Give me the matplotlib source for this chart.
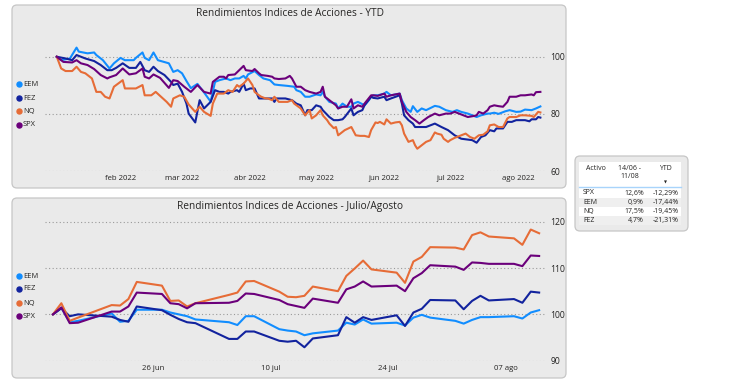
import matplotlib.pyplot as plt
import numpy as np
import pandas as pd
from matplotlib.patches import FancyBboxPatch, Rectangle

W, H = 730, 382
FONT = ["Open Sans", "DejaVu Sans"]
plt.rcParams["font.family"] = FONT

SERIES = ["EEM", "FEZ", "NQ", "SPX"]
COLORS = {"EEM": "#118DFF", "FEZ": "#12239E", "NQ": "#E66C37", "SPX": "#6B007B"}

# ---- YTD panel: day offset from 2022-01-01, value (base 100)
eem_day = [2, 4, 8, 11, 12, 16, 19, 20, 23, 26,
           28, 31, 33, 37, 38, 41, 42, 44, 46, 48,
           53, 55, 57, 59, 61, 63, 66, 69, 72, 74,
           76, 79, 81, 83, 85, 87, 88, 89, 92, 94,
           96, 99, 101, 103, 107, 110, 111, 113, 115, 117,
           120, 122, 123, 124, 126, 129, 130, 132, 134, 136,
           137, 139, 142, 144, 145, 146, 148, 151, 152, 154,
           158, 159, 161, 163, 164, 166, 168, 170, 174, 176,
           179, 182, 184, 186, 189, 191, 193, 195, 198, 199,
           201, 203, 206, 208, 211, 213, 215, 218, 220, 222]
eem_ytd = [100, 98.8, 99.4, 103.2, 101.8, 101.2, 101.5, 100.6, 98.8, 95.9,
           97.7, 99.6, 98.8, 98.8, 99.6, 101.5, 99.6, 98.8, 101.5, 98.8,
           97.7, 94.7, 95.3, 94.2, 91.5, 89.0, 90.5, 87.5, 84.3, 91.2,
           91.8, 92.4, 91.8, 92.4, 92.4, 93.3, 92.4, 93.8, 95.0, 93.6,
           92.4, 91.8, 90.3, 90.1, 89.8, 89.5, 88.3, 87.7, 86.0, 86.0,
           86.8, 86.5, 87.7, 86.0, 84.2, 83.6, 81.9, 83.6, 82.5, 82.5,
           83.6, 84.2, 83.0, 84.8, 86.0, 86.5, 86.5, 87.1, 87.7, 86.5,
           87.1, 84.8, 81.9, 80.7, 82.7, 80.7, 81.9, 81.3, 82.8, 82.5,
           81.3, 80.7, 81.3, 80.7, 80.1, 79.5, 78.9, 79.5, 80.1, 80.1,
           80.4, 80.0, 80.9, 81.3, 80.7, 80.8, 81.5, 81.3, 81.9, 82.6]

fez_day = [2, 6, 9, 11, 15, 19, 22, 25, 27, 29,
           32, 35, 38, 40, 42, 44, 46, 48, 51, 54,
           55, 57, 59, 61, 62, 65, 67, 69, 72, 74,
           76, 78, 80, 81, 84, 85, 87, 88, 90, 92,
           94, 97, 100, 101, 102, 106, 109, 111, 113, 115,
           116, 118, 120, 122, 123, 126, 128, 130, 132, 133,
           136, 137, 139, 141, 142, 145, 146, 148, 151, 152,
           154, 158, 159, 160, 162, 164, 165, 167, 170, 174,
           177, 180, 183, 186, 188, 191, 193, 195, 197, 199,
           201, 202, 205, 207, 209, 211, 213, 215, 217, 218,
           220, 221, 222]
fez_ytd = [100, 99.4, 98.8, 100.6, 99.4, 98.5, 97.1, 95.3, 95.3, 96.1,
           97.7, 96.1, 96.1, 98.2, 95.3, 94.7, 96.5, 95.0, 93.6, 91.2,
           90.1, 90.6, 87.7, 83.6, 80.1, 77.0, 84.8, 81.9, 84.2, 88.3,
           87.7, 87.7, 87.1, 87.7, 88.3, 87.7, 90.6, 88.3, 88.9, 88.9,
           85.4, 85.4, 85.4, 84.2, 85.4, 85.4, 84.8, 83.6, 83.0, 79.5,
           81.3, 81.3, 83.0, 82.5, 81.3, 78.9, 77.8, 77.8, 78.1, 78.9,
           81.9, 79.5, 80.7, 81.3, 83.0, 86.0, 85.6, 85.4, 86.0, 84.8,
           85.4, 86.5, 83.6, 79.5, 77.8, 76.6, 75.4, 75.4, 75.4, 76.6,
           75.4, 74.3, 72.5, 71.3, 71.1, 70.8, 69.9, 71.9, 72.5, 74.3,
           73.9, 74.9, 74.9, 77.2, 77.2, 77.8, 77.8, 77.8, 77.4, 78.1,
           78.1, 78.9, 78.7]

spx_day = [2, 4, 5, 9, 11, 13, 16, 19, 22, 25,
           26, 29, 32, 35, 38, 41, 42, 44, 46, 49,
           53, 55, 57, 60, 63, 66, 69, 72, 73, 76,
           78, 79, 80, 83, 85, 87, 88, 91, 92, 94,
           95, 98, 100, 101, 103, 106, 108, 109, 111, 113,
           115, 117, 120, 122, 123, 124, 126, 129, 130, 132,
           134, 136, 137, 139, 141, 142, 145, 146, 148, 151,
           152, 154, 158, 159, 161, 163, 165, 167, 169, 171,
           174, 176, 179, 181, 183, 185, 187, 189, 192, 193,
           194, 196, 198, 199, 201, 203, 205, 207, 208, 211,
           213, 215, 218, 219, 220, 222]
spx_ytd = [100, 98.8, 98.2, 98.0, 98.8, 97.7, 97.1, 95.7, 93.6, 92.4,
           92.8, 93.6, 95.9, 93.8, 94.2, 95.9, 93.0, 92.4, 93.8, 92.6,
           89.1, 91.8, 91.5, 89.5, 87.7, 90.1, 87.7, 87.1, 91.2, 93.0,
           93.0, 92.4, 93.6, 93.8, 95.3, 96.8, 95.3, 95.0, 95.7, 94.2,
           93.6, 93.3, 93.0, 92.4, 92.2, 92.4, 93.3, 92.4, 89.5, 89.5,
           88.3, 87.7, 87.1, 87.7, 89.5, 86.0, 84.8, 83.0, 81.9, 82.5,
           82.5, 85.1, 81.9, 83.0, 82.5, 83.6, 86.5, 86.5, 86.3, 87.1,
           86.0, 86.5, 87.1, 84.2, 80.7, 78.9, 77.8, 76.6, 77.8, 78.9,
           80.1, 79.5, 80.1, 80.1, 80.7, 80.1, 79.5, 78.9, 79.3, 79.5,
           80.7, 80.1, 81.3, 82.5, 83.0, 82.7, 82.5, 84.2, 86.0, 86.0,
           86.5, 86.5, 86.8, 86.5, 87.6, 87.7]

nq_day = [2, 4, 6, 9, 11, 13, 15, 18, 20, 22,
          24, 26, 28, 32, 33, 36, 38, 41, 42, 45,
          47, 49, 52, 54, 55, 58, 60, 62, 65, 67,
          69, 72, 73, 75, 78, 80, 82, 84, 85, 87,
          89, 91, 92, 94, 95, 97, 98, 100, 101, 103,
          105, 107, 109, 110, 113, 115, 117, 118, 120, 122,
          123, 125, 126, 128, 129, 130, 132, 133, 136, 138,
          140, 142, 144, 145, 147, 148, 149, 151, 152, 154,
          156, 158, 159, 160, 162, 164, 165, 166, 168, 170,
          172, 174, 175, 177, 178, 180, 181, 183, 186, 188,
          190, 192, 194, 196, 198, 199, 201, 203, 205, 207,
          208, 211, 213, 215, 218, 219, 221, 222]
nq_ytd = [100, 95.9, 95.0, 95.0, 96.5, 94.7, 94.2, 92.4, 87.7, 87.7,
          86.0, 85.4, 89.5, 91.8, 88.9, 88.9, 88.9, 90.1, 86.5, 86.5,
          87.7, 86.3, 84.2, 82.5, 85.4, 86.5, 86.0, 83.3, 80.7, 82.5,
          80.7, 79.3, 83.6, 87.1, 87.1, 88.3, 87.7, 90.1, 89.5, 90.6,
          92.4, 90.1, 87.7, 86.5, 86.0, 85.4, 85.4, 84.8, 86.0, 84.2,
          84.2, 84.2, 84.8, 83.6, 81.9, 79.5, 81.3, 78.4, 79.5, 81.3,
          79.5, 77.8, 76.6, 75.0, 75.4, 72.5, 73.7, 74.3, 75.4, 72.5,
          72.3, 72.3, 71.9, 74.3, 77.0, 76.8, 77.2, 76.3, 78.1, 76.6,
          77.0, 77.2, 76.0, 73.1, 70.2, 70.8, 69.0, 67.8, 69.0, 70.2,
          70.8, 73.5, 73.1, 72.7, 71.3, 70.2, 70.8, 71.6, 72.5, 73.1,
          71.9, 71.3, 72.5, 72.7, 73.9, 76.0, 76.3, 75.4, 75.4, 78.4,
          78.9, 78.9, 79.5, 79.5, 79.3, 78.9, 80.7, 80.5]

YTD_TICKS = ["2022-02-01", "2022-03-01", "2022-04-01", "2022-05-01",
             "2022-06-01", "2022-07-01", "2022-08-01"]
YTD_LABELS = ["feb 2022", "mar 2022", "abr 2022", "may 2022",
              "jun 2022", "jul 2022", "ago 2022"]

# ---- Julio/Agosto panel (base 100 on 14/06)
ja_dates = ["2022-06-14", "2022-06-15", "2022-06-16", "2022-06-17", "2022-06-21",
            "2022-06-22", "2022-06-23", "2022-06-24", "2022-06-27", "2022-06-28",
            "2022-06-29", "2022-06-30", "2022-07-01", "2022-07-05", "2022-07-06",
            "2022-07-07", "2022-07-08", "2022-07-11", "2022-07-12", "2022-07-13",
            "2022-07-14", "2022-07-15", "2022-07-18", "2022-07-19", "2022-07-20",
            "2022-07-21", "2022-07-22", "2022-07-25", "2022-07-26", "2022-07-27",
            "2022-07-28", "2022-07-29", "2022-08-01", "2022-08-02", "2022-08-03",
            "2022-08-04", "2022-08-05", "2022-08-08", "2022-08-09", "2022-08-10",
            "2022-08-11"]
eem_ja = [100, 101.4, 98.3, 98.6, 100.2, 98.4, 98.6, 101.0, 101.0, 100.4,
          100.0, 99.6, 98.9, 98.3, 97.7, 99.6, 99.6, 96.8, 96.5, 96.3,
          95.5, 95.9, 96.5, 98.2, 97.8, 98.9, 98.0, 98.2, 97.6, 99.3,
          99.9, 99.3, 98.6, 98.0, 98.8, 99.4, 99.4, 99.6, 99.1, 100.4,
          100.9]
fez_ja = [100, 101.3, 99.6, 100.0, 99.5, 98.8, 98.4, 101.7, 100.9, 99.9,
          99.0, 98.3, 98.1, 94.7, 94.7, 96.3, 96.3, 94.3, 94.1, 94.3,
          92.9, 94.8, 95.5, 99.4, 98.2, 99.4, 98.8, 99.8, 97.5, 100.4,
          101.2, 103.1, 103.0, 101.1, 102.9, 104.0, 103.0, 103.3, 102.5, 104.9,
          104.7]
nq_ja = [100, 102.4, 98.6, 99.3, 102.0, 101.9, 103.3, 107.0, 106.2, 102.9,
         103.0, 101.7, 102.4, 104.2, 104.7, 107.1, 107.2, 104.9, 103.8, 103.7,
         104.0, 106.0, 105.0, 108.3, 109.9, 111.6, 109.7, 109.0, 106.8, 111.4,
         112.4, 114.5, 114.4, 114.0, 117.1, 117.7, 116.8, 116.4, 115.0, 118.3,
         117.5]
spx_ja = [100, 101.5, 98.1, 98.2, 100.6, 100.6, 101.7, 104.7, 104.4, 102.4,
          102.2, 101.3, 102.4, 102.5, 102.9, 104.5, 104.4, 103.1, 102.2, 101.8,
          101.4, 103.4, 102.5, 105.4, 106.0, 107.1, 106.0, 106.2, 105.0, 107.8,
          108.9, 110.6, 110.3, 109.6, 111.2, 111.1, 110.9, 110.9, 110.4, 112.7,
          112.6]

JA_TICKS = ["2022-06-26", "2022-07-10", "2022-07-24", "2022-08-07"]
JA_LABELS = ["26 jun", "10 jul", "24 jul", "07 ago"]

# ---- side table
tab_assets = ["SPX", "EEM", "NQ", "FEZ"]
tab_period = ["12,6%", "0,9%", "17,5%", "4,7%"]
tab_ytd = ["-12,29%", "-17,44%", "-19,45%", "-21,31%"]

YEAR0 = pd.Timestamp("2022-01-01")
ytd_data = {
    "EEM": (eem_day, eem_ytd),
    "FEZ": (fez_day, fez_ytd),
    "NQ": (nq_day, nq_ytd),
    "SPX": (spx_day, spx_ytd),
}
ja_data = {"EEM": eem_ja, "FEZ": fez_ja, "NQ": nq_ja, "SPX": spx_ja}


def px_axes(fig, left, top, right, bottom):
    return fig.add_axes([left / W, 1 - bottom / H, (right - left) / W, (bottom - top) / H])


def style_axis(ax, yticks, ylim, xlim, xticks, xlabels):
    ax.set_facecolor("none")
    for s in ax.spines.values():
        s.set_visible(False)
    ax.set_ylim(*ylim)
    ax.set_xlim(*xlim)
    ax.set_yticks(yticks)
    ax.set_yticklabels([str(v) for v in yticks])
    ax.yaxis.tick_right()
    ax.set_xticks(pd.to_datetime(xticks))
    ax.set_xticklabels(xlabels)
    ax.tick_params(axis="y", length=0, pad=4, labelsize=6.2, labelcolor="#252423")
    ax.tick_params(axis="x", length=0, pad=3, labelsize=5.6, labelcolor="#252423")
    ax.yaxis.grid(True, linestyle=(0, (1, 2.2)), color="#9a9a9a", linewidth=0.8)
    ax.xaxis.grid(False)
    ax.set_axisbelow(True)


def draw_legend(bg, x, ys):
    for name, y in zip(SERIES, ys):
        bg.plot([x], [y], marker="o", markersize=3.6, color=COLORS[name], linestyle="none")
        bg.text(x + 4, y, name, fontsize=5.4, va="center", ha="left", color="#252423")


fig = plt.figure(figsize=(W / 100, H / 100), dpi=100)
fig.patch.set_facecolor("white")

bg = fig.add_axes([0, 0, 1, 1])
bg.set_xlim(0, W)
bg.set_ylim(H, 0)
bg.axis("off")
bg.set_zorder(0)

for top, bottom in ((5, 188), (198, 378)):
    bg.add_patch(FancyBboxPatch((12, top), 554, bottom - top,
                                boxstyle="round,pad=0,rounding_size=5",
                                facecolor="#EAEAEA", edgecolor="#C6C6C6", linewidth=0.9))

bg.text(290, 14, "Rendimientos Indices de Acciones - YTD", fontsize=7.3,
        ha="center", va="center", color="#252423")
bg.text(290, 207, "Rendimientos Indices de Acciones - Julio/Agosto", fontsize=7.3,
        ha="center", va="center", color="#252423")

draw_legend(bg, 19, [84, 98, 111, 125])
draw_legend(bg, 19, [276, 289, 303, 316])

# ---- top chart
ax1 = px_axes(fig, 45, 43.9, 545, 171)
ax1.set_zorder(1)
for name in SERIES:
    days, vals = ytd_data[name]
    dates = YEAR0 + pd.to_timedelta(np.asarray(days), unit="D")
    ax1.plot(dates, vals, color=COLORS[name], linewidth=1.5, solid_joinstyle="round")
style_axis(ax1, [60, 80, 100], (60, 104.5),
           (YEAR0 - pd.Timedelta(days=3.35), YEAR0 + pd.Timedelta(days=224.1)),
           YTD_TICKS, YTD_LABELS)

# ---- bottom chart
ax2 = px_axes(fig, 45, 212.4, 545, 360.7)
ax2.set_zorder(1)
ja_x = pd.to_datetime(ja_dates)
for name in SERIES:
    ax2.plot(ja_x, ja_data[name], color=COLORS[name], linewidth=1.5, solid_joinstyle="round")
d0 = pd.Timestamp("2022-06-14")
style_axis(ax2, [90, 100, 110, 120], (90, 122),
           (d0 - pd.Timedelta(days=0.95), d0 + pd.Timedelta(days=58.7)),
           JA_TICKS, JA_LABELS)

# ---- side table
bg.add_patch(FancyBboxPatch((575, 156), 113, 75, boxstyle="round,pad=0,rounding_size=5",
                            facecolor="#EAEAEA", edgecolor="#C6C6C6", linewidth=0.9))
bg.add_patch(Rectangle((579, 162), 102, 25, facecolor="white", edgecolor="none"))
bg.plot([579, 681], [186.5, 186.5], color="#A8D4FB", linewidth=1.0)
row_y = [193, 202.5, 211.5, 220.5]
for i, y in enumerate(row_y):
    bg.add_patch(Rectangle((579, y - 4.6), 102, 9.2,
                           facecolor="white" if i % 2 == 0 else "#EFEFEF", edgecolor="none"))
hdr = dict(fontsize=5.0, color="#252423", va="center")
bg.text(586, 169, "Activo", ha="left", **hdr)
bg.text(630, 169, "14/06 -", ha="center", **hdr)
bg.text(630, 176.5, "11/08", ha="center", **hdr)
bg.text(665, 169, "YTD", ha="center", **hdr)
bg.text(665, 183, "\u25BC", ha="center", fontsize=2.8, color="#252423", va="center")
for y, a, p, t in zip(row_y, tab_assets, tab_period, tab_ytd):
    bg.text(583, y, a, ha="left", fontsize=5.0, color="#252423", va="center")
    bg.text(644, y, p, ha="right", fontsize=5.0, color="#252423", va="center")
    bg.text(679, y, t, ha="right", fontsize=5.0, color="#252423", va="center")

fig.savefig("out.png", dpi=100)
